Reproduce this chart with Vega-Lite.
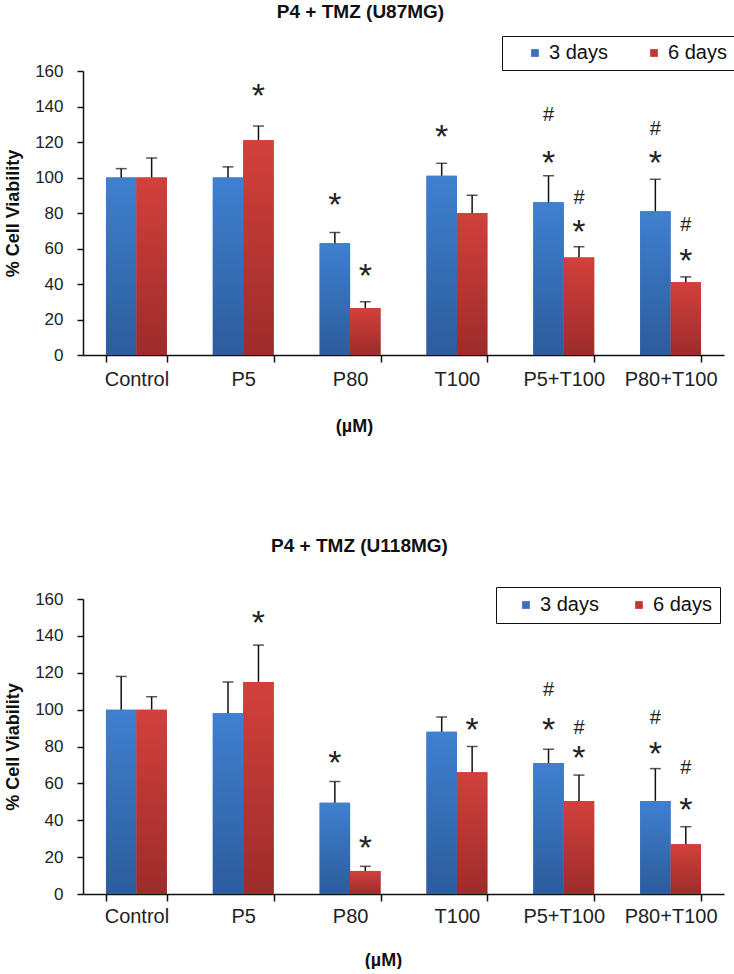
{
  "$schema": "https://vega.github.io/schema/vega-lite/v6.json",
  "background": "white",
  "padding": {"left": 4, "top": 2, "right": 2, "bottom": 0},
  "spacing": 101,
  "datasets": {
    "u87": [
      {"conc": "Control", "series": "3 days", "value": 100, "err": 105},
      {"conc": "Control", "series": "6 days", "value": 100, "err": 111},
      {"conc": "P5", "series": "3 days", "value": 100, "err": 106},
      {"conc": "P5", "series": "6 days", "value": 121, "err": 129},
      {"conc": "P80", "series": "3 days", "value": 63, "err": 69},
      {"conc": "P80", "series": "6 days", "value": 26.5, "err": 30},
      {"conc": "T100", "series": "3 days", "value": 101, "err": 108},
      {"conc": "T100", "series": "6 days", "value": 80, "err": 90},
      {"conc": "P5+T100", "series": "3 days", "value": 86, "err": 101},
      {"conc": "P5+T100", "series": "6 days", "value": 55, "err": 61},
      {"conc": "P80+T100", "series": "3 days", "value": 81, "err": 99},
      {"conc": "P80+T100", "series": "6 days", "value": 41, "err": 44}
    ],
    "u87ann": [
      {"conc": "P5", "series": "6 days", "sym": "*", "pos": 150},
      {"conc": "P80", "series": "3 days", "sym": "*", "pos": 88.5},
      {"conc": "P80", "series": "6 days", "sym": "*", "pos": 48.5},
      {"conc": "T100", "series": "3 days", "sym": "*", "pos": 127},
      {"conc": "P5+T100", "series": "3 days", "sym": "*", "pos": 112},
      {"conc": "P5+T100", "series": "3 days", "sym": "#", "pos": 136},
      {"conc": "P5+T100", "series": "6 days", "sym": "*", "pos": 73},
      {"conc": "P5+T100", "series": "6 days", "sym": "#", "pos": 89},
      {"conc": "P80+T100", "series": "3 days", "sym": "*", "pos": 112},
      {"conc": "P80+T100", "series": "3 days", "sym": "#", "pos": 128},
      {"conc": "P80+T100", "series": "6 days", "sym": "*", "pos": 57},
      {"conc": "P80+T100", "series": "6 days", "sym": "#", "pos": 74}
    ],
    "u118": [
      {"conc": "Control", "series": "3 days", "value": 100, "err": 118},
      {"conc": "Control", "series": "6 days", "value": 100, "err": 107},
      {"conc": "P5", "series": "3 days", "value": 98, "err": 115},
      {"conc": "P5", "series": "6 days", "value": 115, "err": 135},
      {"conc": "P80", "series": "3 days", "value": 49.5, "err": 61},
      {"conc": "P80", "series": "6 days", "value": 12.5, "err": 15},
      {"conc": "T100", "series": "3 days", "value": 88, "err": 96},
      {"conc": "T100", "series": "6 days", "value": 66, "err": 80},
      {"conc": "P5+T100", "series": "3 days", "value": 71, "err": 78.5},
      {"conc": "P5+T100", "series": "6 days", "value": 50.5, "err": 64.5},
      {"conc": "P80+T100", "series": "3 days", "value": 50.5, "err": 68},
      {"conc": "P80+T100", "series": "6 days", "value": 27, "err": 36.5}
    ],
    "u118ann": [
      {"conc": "P5", "series": "6 days", "sym": "*", "pos": 151},
      {"conc": "P80", "series": "3 days", "sym": "*", "pos": 75},
      {"conc": "P80", "series": "6 days", "sym": "*", "pos": 28.5},
      {"conc": "T100", "series": "6 days", "sym": "*", "pos": 93},
      {"conc": "P5+T100", "series": "3 days", "sym": "*", "pos": 93},
      {"conc": "P5+T100", "series": "3 days", "sym": "#", "pos": 111},
      {"conc": "P5+T100", "series": "6 days", "sym": "*", "pos": 77.6},
      {"conc": "P5+T100", "series": "6 days", "sym": "#", "pos": 90.6},
      {"conc": "P80+T100", "series": "3 days", "sym": "*", "pos": 80},
      {"conc": "P80+T100", "series": "3 days", "sym": "#", "pos": 96},
      {"conc": "P80+T100", "series": "6 days", "sym": "*", "pos": 49.5},
      {"conc": "P80+T100", "series": "6 days", "sym": "#", "pos": 69}
    ]
  },
  "config": {
    "view": {"stroke": null},
    "font": "Liberation Sans",
    "axis": {"grid": false, "domainColor": "#111", "tickColor": "#111", "domainWidth": 1.5, "tickWidth": 1.5, "labelColor": "#222", "titleColor": "#111", "labelFont": "Liberation Sans", "titleFont": "Liberation Sans", "labelOverlap": false},
    "axisY": {"tickCount": 12, "values": [0, 20, 40, 60, 80, 100, 120, 140, 160], "labelFontSize": 17, "tickSize": 6, "labelPadding": 14, "titlePadding": 12, "titleFontSize": 18, "titleFontWeight": "bold", "labelOverlap": false},
    "legend": {"labelFont": "Liberation Sans"},
    "title": {"font": "Liberation Sans", "color": "#111"}
  },
  "resolve": {"scale": {"x": "independent", "y": "independent", "color": "independent", "xOffset": "independent"}},
  "vconcat": [
    {
      "width": 641,
      "height": 284,
      "title": {"text": "P4 + TMZ (U87MG)", "fontSize": 19, "fontWeight": "bold", "anchor": "middle", "dx": -43, "offset": 14},
      "encoding": {
        "x": {"field": "conc", "type": "nominal", "sort": ["Control", "P5", "P80", "T100", "P5+T100", "P80+T100"],
          "scale": {"paddingInner": 0.43, "paddingOuter": 0.215},
          "axis": {"title": "(µM)", "titleFontSize": 18, "titleFontWeight": "bold", "titleX": 271, "titleY": 62, "titleBaseline": "top", "titleAlign": "center", "labelAngle": 0, "labelFontSize": 20, "tickSize": 7, "labelPadding": 7, "tickBand": "extent"}},
        "xOffset": {"field": "series", "type": "nominal", "sort": ["3 days", "6 days"]}
      },
      "layer": [
        {
          "data": {"name": "u87"},
          "mark": {"type": "bar"},
          "encoding": {
            "y": {"field": "value", "type": "quantitative", "scale": {"domain": [0, 160], "nice": false},
              "axis": {"title": "% Cell Viability", "values": [0, 20, 40, 60, 80, 100, 120, 140, 160], "tickCount": 12, "labelOverlap": false}},
            "color": {"field": "series", "type": "nominal", "scale": {"domain": ["3 days", "6 days"], "range": ["#3a70bd", "#c0392f"]},
              "legend": {"title": null, "orient": "none", "legendX": 419, "legendY": -35, "direction": "horizontal", "strokeColor": "#111", "padding": 7, "symbolType": "square", "symbolSize": 60, "symbolStrokeWidth": 0, "labelFontSize": 20, "labelColor": "#111", "columnPadding": 20, "labelOffset": 4, "symbolOffset": 16}}
          }
        },
        {
          "data": {"name": "u87"},
          "transform": [{"filter": "datum.series === '3 days'"}],
          "mark": {"type": "bar", "fill": {"gradient": "linear", "x1": 0, "y1": 0, "x2": 0, "y2": 1, "stops": [{"offset": 0, "color": "#3f80d0"}, {"offset": 1, "color": "#2c5c9b"}]}},
          "encoding": {"y": {"field": "value", "type": "quantitative", "axis": {"title": "% Cell Viability", "values": [0, 20, 40, 60, 80, 100, 120, 140, 160], "tickCount": 12, "labelOverlap": false}}}
        },
        {
          "data": {"name": "u87"},
          "transform": [{"filter": "datum.series === '6 days'"}],
          "mark": {"type": "bar", "fill": {"gradient": "linear", "x1": 0, "y1": 0, "x2": 0, "y2": 1, "stops": [{"offset": 0, "color": "#d2403c"}, {"offset": 1, "color": "#9d2c2a"}]}},
          "encoding": {"y": {"field": "value", "type": "quantitative", "axis": {"title": "% Cell Viability", "values": [0, 20, 40, 60, 80, 100, 120, 140, 160], "tickCount": 12, "labelOverlap": false}}}
        },
        {
          "data": {"name": "u87"},
          "mark": {"type": "rule", "color": "#111", "strokeWidth": 1.5},
          "encoding": {"y": {"field": "value", "type": "quantitative", "axis": {"title": "% Cell Viability", "values": [0, 20, 40, 60, 80, 100, 120, 140, 160], "tickCount": 12, "labelOverlap": false}}, "y2": {"field": "err"}}
        },
        {
          "data": {"name": "u87"},
          "mark": {"type": "tick", "color": "#111", "thickness": 1.5, "size": 11},
          "encoding": {"y": {"field": "err", "type": "quantitative", "axis": {"title": "% Cell Viability", "values": [0, 20, 40, 60, 80, 100, 120, 140, 160], "tickCount": 12, "labelOverlap": false}}}
        },
        {
          "data": {"name": "u87ann"},
          "transform": [{"filter": "datum.sym === '*'"}],
          "mark": {"type": "text", "fontSize": 34, "color": "#222", "baseline": "alphabetic", "dy": 18},
          "encoding": {"y": {"field": "pos", "type": "quantitative", "axis": {"title": "% Cell Viability", "values": [0, 20, 40, 60, 80, 100, 120, 140, 160], "tickCount": 12, "labelOverlap": false}}, "text": {"field": "sym"}}
        },
        {
          "data": {"name": "u87ann"},
          "transform": [{"filter": "datum.sym === '#'"}],
          "mark": {"type": "text", "fontSize": 20, "color": "#222", "baseline": "alphabetic", "dy": 7},
          "encoding": {"y": {"field": "pos", "type": "quantitative", "axis": {"title": "% Cell Viability", "values": [0, 20, 40, 60, 80, 100, 120, 140, 160], "tickCount": 12, "labelOverlap": false}}, "text": {"field": "sym"}}
        }
      ]
    },
    {
      "width": 641,
      "height": 295,
      "title": {"text": "P4 + TMZ (U118MG)", "fontSize": 19, "fontWeight": "bold", "anchor": "middle", "dx": -44, "offset": 31},
      "encoding": {
        "x": {"field": "conc", "type": "nominal", "sort": ["Control", "P5", "P80", "T100", "P5+T100", "P80+T100"],
          "scale": {"paddingInner": 0.43, "paddingOuter": 0.215},
          "axis": {"title": "(µM)", "titleFontSize": 18, "titleFontWeight": "bold", "titleX": 300, "titleY": 57, "titleBaseline": "top", "titleAlign": "center", "labelAngle": 0, "labelFontSize": 20, "tickSize": 7, "labelPadding": 5, "tickBand": "extent"}},
        "xOffset": {"field": "series", "type": "nominal", "sort": ["3 days", "6 days"]}
      },
      "layer": [
        {
          "data": {"name": "u118"},
          "mark": {"type": "bar"},
          "encoding": {
            "y": {"field": "value", "type": "quantitative", "scale": {"domain": [0, 160], "nice": false},
              "axis": {"title": "% Cell Viability", "values": [0, 20, 40, 60, 80, 100, 120, 140, 160], "tickCount": 12, "labelOverlap": false}},
            "color": {"field": "series", "type": "nominal", "scale": {"domain": ["3 days", "6 days"], "range": ["#3a70bd", "#c0392f"]},
              "legend": {"title": null, "orient": "none", "legendX": 413, "legendY": -12, "direction": "horizontal", "strokeColor": "#111", "padding": 8, "symbolType": "square", "symbolSize": 60, "symbolStrokeWidth": 0, "labelFontSize": 20, "labelColor": "#111", "columnPadding": 18, "labelOffset": 4, "symbolOffset": 12}}
          }
        },
        {
          "data": {"name": "u118"},
          "transform": [{"filter": "datum.series === '3 days'"}],
          "mark": {"type": "bar", "fill": {"gradient": "linear", "x1": 0, "y1": 0, "x2": 0, "y2": 1, "stops": [{"offset": 0, "color": "#3f80d0"}, {"offset": 1, "color": "#2c5c9b"}]}},
          "encoding": {"y": {"field": "value", "type": "quantitative", "axis": {"title": "% Cell Viability", "values": [0, 20, 40, 60, 80, 100, 120, 140, 160], "tickCount": 12, "labelOverlap": false}}}
        },
        {
          "data": {"name": "u118"},
          "transform": [{"filter": "datum.series === '6 days'"}],
          "mark": {"type": "bar", "fill": {"gradient": "linear", "x1": 0, "y1": 0, "x2": 0, "y2": 1, "stops": [{"offset": 0, "color": "#d2403c"}, {"offset": 1, "color": "#9d2c2a"}]}},
          "encoding": {"y": {"field": "value", "type": "quantitative", "axis": {"title": "% Cell Viability", "values": [0, 20, 40, 60, 80, 100, 120, 140, 160], "tickCount": 12, "labelOverlap": false}}}
        },
        {
          "data": {"name": "u118"},
          "mark": {"type": "rule", "color": "#111", "strokeWidth": 1.5},
          "encoding": {"y": {"field": "value", "type": "quantitative", "axis": {"title": "% Cell Viability", "values": [0, 20, 40, 60, 80, 100, 120, 140, 160], "tickCount": 12, "labelOverlap": false}}, "y2": {"field": "err"}}
        },
        {
          "data": {"name": "u118"},
          "mark": {"type": "tick", "color": "#111", "thickness": 1.5, "size": 11},
          "encoding": {"y": {"field": "err", "type": "quantitative", "axis": {"title": "% Cell Viability", "values": [0, 20, 40, 60, 80, 100, 120, 140, 160], "tickCount": 12, "labelOverlap": false}}}
        },
        {
          "data": {"name": "u118ann"},
          "transform": [{"filter": "datum.sym === '*'"}],
          "mark": {"type": "text", "fontSize": 34, "color": "#222", "baseline": "alphabetic", "dy": 18},
          "encoding": {"y": {"field": "pos", "type": "quantitative", "axis": {"title": "% Cell Viability", "values": [0, 20, 40, 60, 80, 100, 120, 140, 160], "tickCount": 12, "labelOverlap": false}}, "text": {"field": "sym"}}
        },
        {
          "data": {"name": "u118ann"},
          "transform": [{"filter": "datum.sym === '#'"}],
          "mark": {"type": "text", "fontSize": 20, "color": "#222", "baseline": "alphabetic", "dy": 7},
          "encoding": {"y": {"field": "pos", "type": "quantitative", "axis": {"title": "% Cell Viability", "values": [0, 20, 40, 60, 80, 100, 120, 140, 160], "tickCount": 12, "labelOverlap": false}}, "text": {"field": "sym"}}
        }
      ]
    }
  ]
}
